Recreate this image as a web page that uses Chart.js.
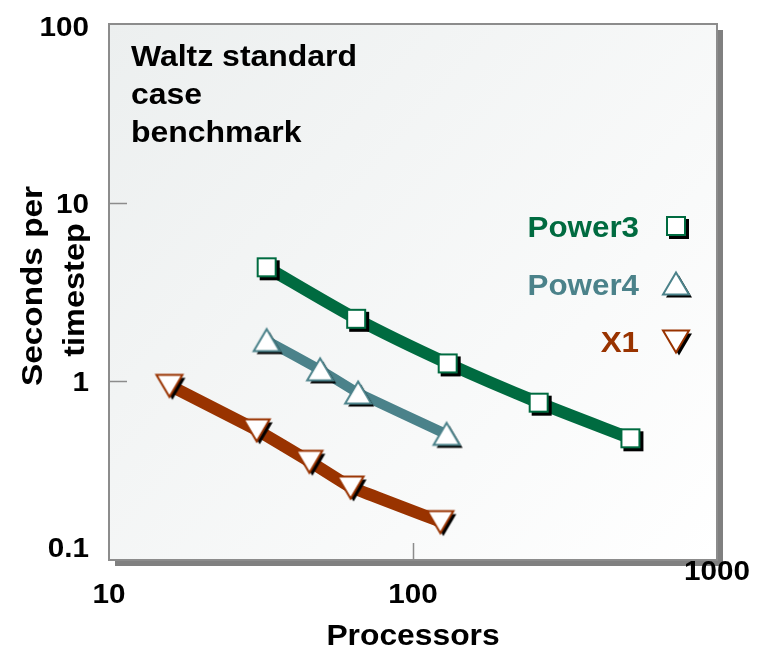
<!DOCTYPE html>
<html>
<head>
<meta charset="utf-8">
<script src="https://cdn.jsdelivr.net/npm/chart.js@4.4.1/dist/chart.umd.min.js"></script>
<style>
html,body{margin:0;padding:0;background:#fff;}
#wrap{width:767px;height:647px;position:relative;}
</style>
</head>
<body>
<div id="wrap"><canvas id="c" width="767" height="647"></canvas></div>
<script>
// ---- data ----
const seriesNames = ['Power3', 'Power4', 'X1'];
const power3Procs = [33, 65, 130, 259, 519];
const power3Secs  = [4.35, 2.24, 1.26, 0.76, 0.48];
const power4Procs = [33, 49.5, 66, 129];
const power4Secs  = [1.69, 1.16, 0.86, 0.505];
const x1Procs     = [15.8, 30.6, 45.6, 62.3, 123];
const x1Secs      = [0.95, 0.535, 0.357, 0.256, 0.164];
const xTickValues = [10, 100, 1000];
const xTickLabels = ['10', '100', '1000'];
const yTickValues = [100, 10, 1, 0.1];
const yTickLabels = ['100', '10', '1', '0.1'];
const titleLines  = ['Waltz standard', 'case', 'benchmark'];
const xAxisTitle  = 'Processors';
const yAxisTitle  = ['Seconds per', 'timestep'];

// ---- styles ----
const colors = ['#006B40', '#4B828A', '#993300'];
const lineWidths = [12, 10, 12];
const shapes = ['square', 'up', 'down'];
const FONT = '"Liberation Sans", Arial, Helvetica, sans-serif';

function makeMarker(shape, color) {
  const S = 36, c = S / 2;
  const cv = document.createElement('canvas');
  cv.width = S; cv.height = S;
  const g = cv.getContext('2d');
  function path(dx, dy) {
    g.beginPath();
    if (shape === 'square') {
      g.rect(c - 10 + dx, c - 10 + dy, 20, 20);
    } else if (shape === 'up') {
      g.moveTo(c + dx, c - 11.5 + dy);
      g.lineTo(c + 13 + dx, c + 10.5 + dy);
      g.lineTo(c - 13 + dx, c + 10.5 + dy);
      g.closePath();
    } else {
      g.moveTo(c - 13 + dx, c - 10.5 + dy);
      g.lineTo(c + 13 + dx, c - 10.5 + dy);
      g.lineTo(c + dx, c + 11.5 + dy);
      g.closePath();
    }
  }
  path(3, 3); g.fillStyle = '#000'; g.fill();
  path(0, 0); g.fillStyle = '#fff'; g.fill();
  g.lineWidth = 2; g.strokeStyle = color; g.lineJoin = 'miter';
  if (shape === 'square') {
    g.strokeRect(c - 9, c - 9, 18, 18);
  } else {
    g.stroke();
  }
  return cv;
}
const markers = shapes.map((s, i) => makeMarker(s, colors[i]));

const procs = [power3Procs, power4Procs, x1Procs];
const secs = [power3Secs, power4Secs, x1Secs];

const datasets = seriesNames.map((name, i) => ({
  label: name,
  data: procs[i].map((p, k) => ({ x: p, y: secs[i][k] })),
  borderColor: colors[i],
  backgroundColor: colors[i],
  borderWidth: lineWidths[i],
  tension: i === 0 ? 0.25 : 0.05,
  pointStyle: markers[i],
  pointRadius: 12,
  showLine: true,
  clip: false,
  borderJoinStyle: 'round',
  borderCapStyle: 'butt'
}));

function txt(ctx, s, x, y, size, color, align, sx) {
  ctx.save();
  ctx.font = 'bold ' + size + 'px ' + FONT;
  ctx.fillStyle = color;
  ctx.textAlign = align || 'left';
  ctx.textBaseline = 'alphabetic';
  ctx.translate(x, y);
  ctx.scale(sx || 1, 1);
  ctx.fillText(s, 0, 0);
  ctx.restore();
}

const decor = {
  id: 'decor',
  beforeDatasetsDraw(chart) {
    const ctx = chart.ctx, a = chart.chartArea;
    const xs = chart.scales.x, ys = chart.scales.y;
    ctx.save();
    ctx.fillStyle = '#808080';
    ctx.fillRect(a.left + 6, a.top + 6, a.right - a.left, a.bottom - a.top);
    const gr = ctx.createLinearGradient(a.left, a.top, a.right, a.bottom);
    gr.addColorStop(0, '#ECEFEF');
    gr.addColorStop(1, '#FFFFFF');
    ctx.fillStyle = gr;
    ctx.fillRect(a.left, a.top, a.right - a.left, a.bottom - a.top);
    ctx.strokeStyle = '#8c8c8c';
    ctx.lineWidth = 2;
    ctx.strokeRect(a.left, a.top, a.right - a.left, a.bottom - a.top);
    ctx.beginPath();
    yTickValues.forEach(v => {
      if (v > ys.min && v < ys.max) {
        const p = Math.round(ys.getPixelForValue(v)) + 0.5;
        ctx.moveTo(a.left, p); ctx.lineTo(a.left + 18, p);
      }
    });
    xTickValues.forEach(v => {
      if (v > xs.min && v < xs.max) {
        const p = Math.round(xs.getPixelForValue(v)) + 0.5;
        ctx.moveTo(p, a.bottom); ctx.lineTo(p, a.bottom - 17);
      }
    });
    ctx.lineWidth = 1.5;
    ctx.stroke();
    ctx.restore();
  },
  afterDraw(chart) {
    const ctx = chart.ctx, a = chart.chartArea;
    const xs = chart.scales.x, ys = chart.scales.y;
    const SX = 1.06;
    yTickValues.forEach((v, i) => {
      let y = ys.getPixelForValue(v) + 10;
      y = Math.max(a.top + 12, Math.min(a.bottom - 3, y));
      txt(ctx, yTickLabels[i], a.left - 20, y, 28, '#000', 'right', SX);
    });
    xTickValues.forEach((v, i) => {
      const x = xs.getPixelForValue(v);
      const y = (i === xTickValues.length - 1) ? a.bottom + 20 : a.bottom + 43;
      txt(ctx, xTickLabels[i], x, y, 28, '#000', 'center', SX);
    });
    txt(ctx, xAxisTitle, (a.left + a.right) / 2, a.bottom + 85, 30, '#000', 'center', SX);
    ctx.save();
    ctx.translate(42, 286);
    ctx.rotate(-Math.PI / 2);
    txt(ctx, yAxisTitle[0], 0, 0, 29, '#000', 'center', 1.15);
    ctx.restore();
    ctx.save();
    ctx.translate(84, 290);
    ctx.rotate(-Math.PI / 2);
    txt(ctx, yAxisTitle[1], 0, 0, 29, '#000', 'center', 1.12);
    ctx.restore();
    titleLines.forEach((s, i) => {
      txt(ctx, s, a.left + 22, a.top + 42 + i * 38, 30, '#000', 'left', 1.065);
    });
    seriesNames.forEach((s, i) => {
      const yb = [237, 295, 352][i];
      txt(ctx, s, 639, yb, 29, colors[i], 'right', 1.08);
      const m = markers[i];
      ctx.drawImage(m, 676 - m.width / 2, yb - 11 - m.height / 2);
    });
  }
};

new Chart(document.getElementById('c'), {
  type: 'scatter',
  data: { datasets },
  options: {
    responsive: false,
    animation: false,
    events: [],
    layout: { padding: { left: 109, top: 20, right: 50, bottom: 87 } },
    scales: {
      x: { type: 'logarithmic', min: 10, max: 1000, display: false },
      y: { type: 'logarithmic', min: 0.1, max: 100, display: false }
    },
    plugins: { legend: { display: false }, tooltip: { enabled: false } }
  },
  plugins: [decor]
});
</script>
</body>
</html>
